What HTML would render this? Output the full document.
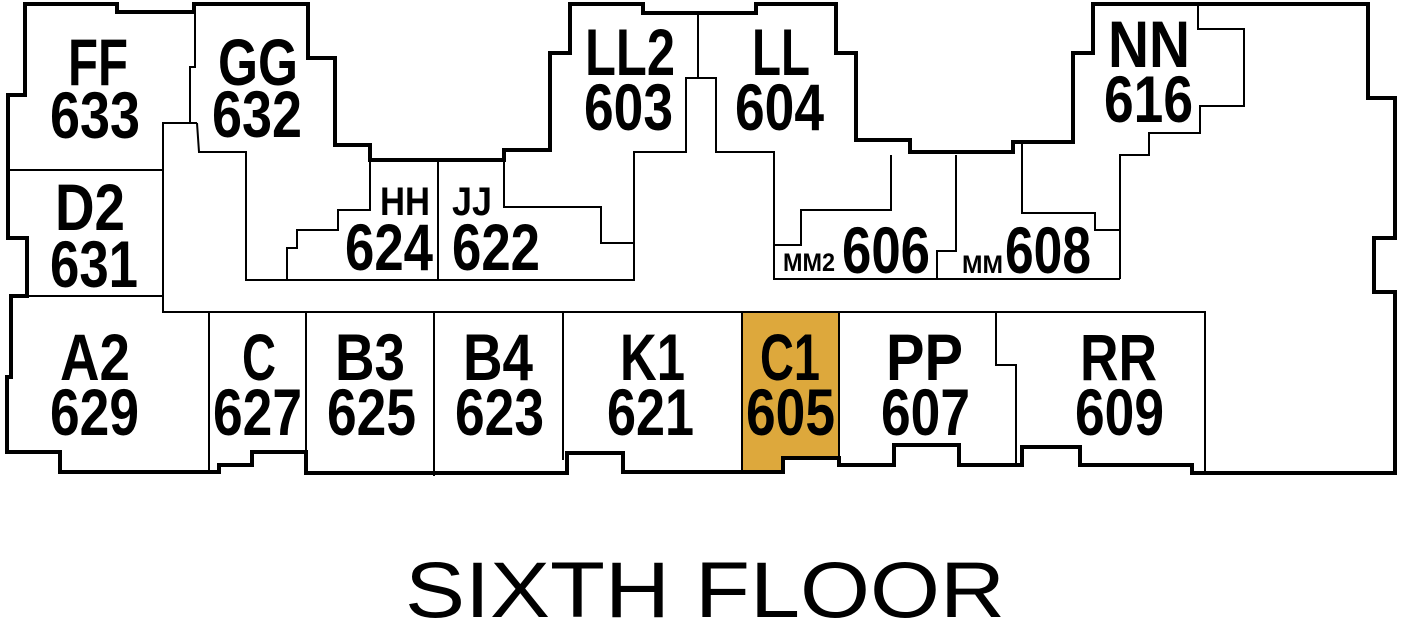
<!DOCTYPE html>
<html><head><meta charset="utf-8"><style>
html,body{margin:0;padding:0;background:#fff;}
svg{display:block;}
.b{font-family:"Liberation Sans Narrow","Liberation Sans",sans-serif;font-weight:bold;fill:#000;}
</style></head><body>
<svg width="1401" height="639" viewBox="0 0 1401 639" xmlns="http://www.w3.org/2000/svg">
<polygon points="742,312 839,312 839,458 783,458 783,472 742,472" fill="#DDA83C"/>
<g fill="none" stroke="#000" stroke-width="2">
<line x1="8" y1="170" x2="163" y2="170"/>
<line x1="27" y1="296" x2="163" y2="296"/>
<polyline points="163,296 163,123 197,123"/>
<polyline points="195,3 195,67 190,67 190,123"/>
<polyline points="197,123 199,152 246,152 246,280 634,280 634,243 601,243 601,207 504,207 504,150"/>
<polyline points="370,160 370,210 338,210 338,230 297,230 297,248 287,248 287,280"/>
<line x1="438" y1="160" x2="438" y2="280"/>
<polyline points="634,243 634,152 686,152 686,78 716,78 716,152 774,152 774,279 1120,279"/>
<line x1="698" y1="13" x2="698" y2="78"/>
<polyline points="774,245 801,245 801,210 891,210 891,155"/>
<polyline points="956,155 956,251 937,251 937,279"/>
<polyline points="1022,143 1022,213 1095,213 1095,230 1120,230"/>
<polyline points="1120,279 1120,155 1149,155 1149,133 1200,133 1200,106 1244,106 1244,29 1198,29 1198,3"/>
<polyline points="163,296 163,312 1205,312 1205,473"/>
<line x1="209" y1="312" x2="209" y2="470"/>
<line x1="306" y1="312" x2="306" y2="473"/>
<line x1="434" y1="312" x2="434" y2="476"/>
<line x1="563" y1="312" x2="563" y2="460"/>
<line x1="742" y1="312" x2="742" y2="472"/>
<line x1="839" y1="312" x2="839" y2="462"/>
<polyline points="996,312 996,365 1016,365 1016,465"/>
</g>
<polygon fill="none" stroke="#000" stroke-width="4" stroke-linejoin="miter" points="
25,4 117,4 117,12 194,12 194,4 308,4 308,58 335,58 335,145 370,145 370,160 504,160 504,150 550,150 550,53 570,53 570,4 643,4 643,13 756,13 756,4 836,4 836,53 856,53 856,140 910,140 910,152 1013,152 1013,142 1073,142 1073,53 1093,53 1093,4 1368,4 1368,98 1395,98 1395,238 1374,238 1374,292 1395,292 1395,473 1192,473 1192,465 1080,465 1080,447 1022,447 1022,465 959,465 959,445 894,445 894,465 839,465 839,458 783,458 783,472 623,472 623,453 567,453 567,473 306,473 306,452 252,452 252,465 219,465 219,472 60,472 60,452 7,452 7,377 11,377 11,296 27,296 27,238 8,238 8,95 25,95"/>
<g class="b" font-size="66" lengthAdjust="spacingAndGlyphs">
<text x="68" y="85" textLength="60" lengthAdjust="spacingAndGlyphs">FF</text>
<text x="50" y="138" textLength="90" lengthAdjust="spacingAndGlyphs">633</text>
<text x="218" y="85" textLength="80" lengthAdjust="spacingAndGlyphs">GG</text>
<text x="212" y="137" textLength="90" lengthAdjust="spacingAndGlyphs">632</text>
<text x="55" y="230" textLength="70" lengthAdjust="spacingAndGlyphs">D2</text>
<text x="50" y="287" textLength="88" lengthAdjust="spacingAndGlyphs">631</text>
<text x="60" y="380" textLength="70" lengthAdjust="spacingAndGlyphs">A2</text>
<text x="50" y="435" textLength="89" lengthAdjust="spacingAndGlyphs">629</text>
<text x="242" y="380" textLength="34" lengthAdjust="spacingAndGlyphs">C</text>
<text x="213" y="435" textLength="89" lengthAdjust="spacingAndGlyphs">627</text>
<text x="335" y="380" textLength="70" lengthAdjust="spacingAndGlyphs">B3</text>
<text x="327" y="435" textLength="89" lengthAdjust="spacingAndGlyphs">625</text>
<text x="463" y="380" textLength="70" lengthAdjust="spacingAndGlyphs">B4</text>
<text x="455" y="435" textLength="89" lengthAdjust="spacingAndGlyphs">623</text>
<text x="620" y="380" textLength="65" lengthAdjust="spacingAndGlyphs">K1</text>
<text x="607" y="435" textLength="87" lengthAdjust="spacingAndGlyphs">621</text>
<text x="760" y="380" textLength="60" lengthAdjust="spacingAndGlyphs">C1</text>
<text x="746" y="435" textLength="89" lengthAdjust="spacingAndGlyphs">605</text>
<text x="886" y="380" textLength="77" lengthAdjust="spacingAndGlyphs">PP</text>
<text x="881" y="435" textLength="89" lengthAdjust="spacingAndGlyphs">607</text>
<text x="1080" y="380" textLength="77" lengthAdjust="spacingAndGlyphs">RR</text>
<text x="1075" y="435" textLength="89" lengthAdjust="spacingAndGlyphs">609</text>
<text x="585" y="75" textLength="90" lengthAdjust="spacingAndGlyphs">LL2</text>
<text x="584" y="130" textLength="89" lengthAdjust="spacingAndGlyphs">603</text>
<text x="752" y="75" textLength="58" lengthAdjust="spacingAndGlyphs">LL</text>
<text x="735" y="130" textLength="89" lengthAdjust="spacingAndGlyphs">604</text>
<text x="1108" y="67" textLength="82" lengthAdjust="spacingAndGlyphs">NN</text>
<text x="1104" y="122" textLength="89" lengthAdjust="spacingAndGlyphs">616</text>
<text x="345" y="270" textLength="88" lengthAdjust="spacingAndGlyphs">624</text>
<text x="452" y="270" textLength="88" lengthAdjust="spacingAndGlyphs">622</text>
<text x="842" y="273" textLength="88" lengthAdjust="spacingAndGlyphs">606</text>
<text x="1005" y="273" textLength="86" lengthAdjust="spacingAndGlyphs">608</text>
</g>
<g class="b" font-size="40">
<text x="380" y="215" textLength="50" lengthAdjust="spacingAndGlyphs">HH</text>
<text x="452" y="215" textLength="40" lengthAdjust="spacingAndGlyphs">JJ</text>
</g>
<g class="b" font-size="25">
<text x="783" y="271" textLength="52" lengthAdjust="spacingAndGlyphs">MM2</text>
<text x="962" y="273" textLength="41" lengthAdjust="spacingAndGlyphs">MM</text>
</g>
<text x="405" y="617" font-family="Liberation Sans, sans-serif" font-size="79" textLength="600" lengthAdjust="spacingAndGlyphs" fill="#000">SIXTH FLOOR</text>
</svg>
</body></html>
